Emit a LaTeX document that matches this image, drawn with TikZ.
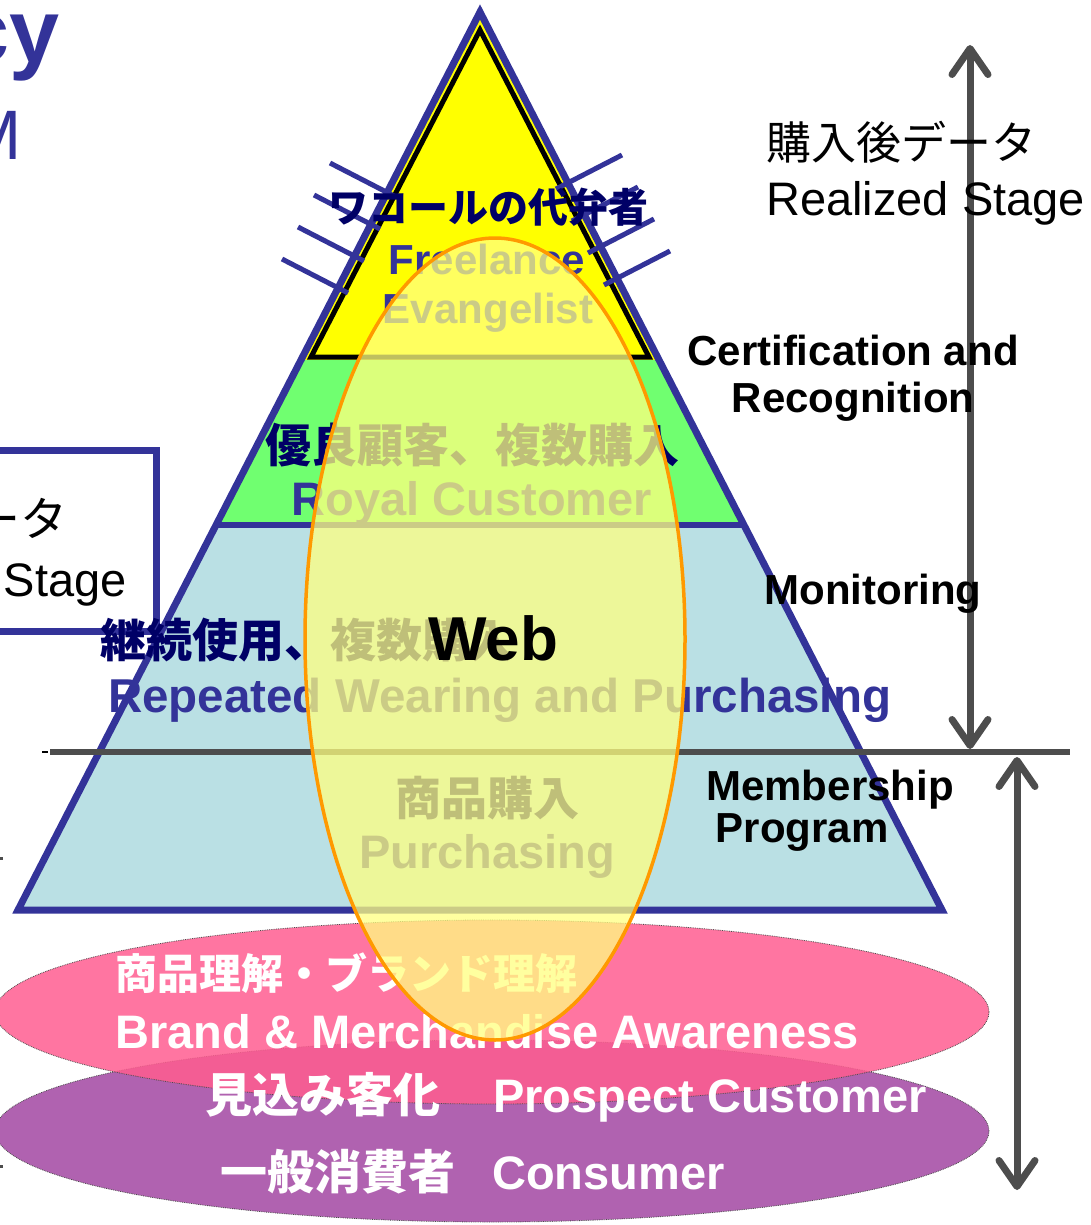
\documentclass[tikz,border=0pt]{standalone}
\usepackage{fontspec}
\setmainfont{Liberation Sans}
\newfontfamily\jp{Noto Sans CJK JP}
\usetikzlibrary{positioning,arrows.meta}
\definecolor{PyrBlue}{HTML}{333399}
\definecolor{PyrNavy}{HTML}{000066}
\definecolor{TopYellow}{HTML}{FFFF00}
\definecolor{MidGreen}{HTML}{70FF70}
\definecolor{LowBlue}{HTML}{BAE0E4}
\definecolor{WebFill}{HTML}{FFFF80}
\definecolor{WebLine}{HTML}{FF9900}
\definecolor{PinkDisc}{HTML}{FF5D90}
\definecolor{PurpleDisc}{HTML}{B062B0}
\definecolor{ArrowGray}{HTML}{4D4D4D}
\tikzset{LayerLabel/.style={%
    inner sep=0pt,%
    anchor=center,%
}}
\tikzset{SideLabel/.style={%
    inner sep=0pt,%
    text=black,%
    font=\bfseries\fontsize{42}{46}\selectfont,%
}}
\tikzset{PlainLabel/.style={%
    inner sep=0pt,%
    text=black,%
    font=\fontsize{47}{50}\selectfont,%
}}
\tikzset{DiscLabel/.style={%
    inner sep=0pt,%
    anchor=west,%
    text=white,%
    font=\bfseries\fontsize{47}{50}\selectfont,%
}}
\tikzset{DiscEdge/.style={%
    draw=black!70,%
    densely dotted,%
    line width=0.8pt,%
}}
\tikzset{HatchLine/.style={%
    draw=PyrBlue,%
    line width=5pt,%
}}
\tikzset{SplitLine/.style={%
    draw=ArrowGray,%
    line width=6pt,%
}}
\tikzset{StageArrow/.style={%
    {Straight Barb[length=26pt,width=36pt,round]}-{Straight Barb[length=26pt,width=36pt,round]},%
    draw=ArrowGray,%
    line width=7pt,%
}}
\tikzset{WebDisc/.style={%
    fill=WebFill,%
    fill opacity=0.75,%
    draw=WebLine,%
    line width=3.5pt,%
}}
\NewDocumentCommand{\layerText}{s m m}{%
    \IfBooleanTF{#1}{%
        {\jp\bfseries\fontsize{#2}{#2}\selectfont\color{PyrNavy}#3}%
    }{%
        {\bfseries\fontsize{#2}{#2}\selectfont\color{PyrBlue}#3}%
    }%
}
\begin{document}
\begin{tikzpicture}[x=1pt,y=-1pt]
    \useasboundingbox (0,0) rectangle (1090,1225);

    % left box, cut by the page edge
    \draw[PyrBlue, line width=7pt] (-20,450) rectangle (156,631);
    \node[PlainLabel, anchor=east] (preJp) at (68,518) {{\jp ータ}};
    \node[PlainLabel, anchor=east] (preEn) at (127,585) {Stage};

    % bottom discs
    \path[fill=PurpleDisc, DiscEdge] (492,1131) ellipse [x radius=497pt, y radius=91pt];
    \path[fill=PinkDisc, fill opacity=0.85, DiscEdge] (492,1012) ellipse [x radius=497pt, y radius=92pt];
    \node[DiscLabel] (awareJp) at (115,973) {{\jp\fontsize{42}{44}\selectfont 商品理解・ブランド理解}};
    \node[DiscLabel] (awareEn) at (115,1032) {Brand \& Merchandise Awareness};
    \node[DiscLabel] (prospect) at (205,1097) {{\jp 見込み客化}\hspace{53pt}Prospect Customer};
    \node[DiscLabel] (consumer) at (220,1172) {{\jp 一般消費者}\hspace{37pt}Consumer};

    % pyramid
    \fill[TopYellow] (480,12) -- (301,360) -- (659,360) -- cycle;
    \fill[MidGreen] (301,360) -- (216,525) -- (744,525) -- (659,360) -- cycle;
    \fill[LowBlue] (216,525) -- (18,910) -- (942,910) -- (744,525) -- cycle;
    \draw[black, line width=5pt, line join=miter] (480,30) -- (311,357) -- (649,357) -- cycle;
    \draw[PyrBlue, line width=6pt] (216,525) -- (744,525);
    \draw[PyrBlue, line width=7pt, line join=miter] (480,12) -- (18,910) -- (942,910) -- cycle;

    \draw[HatchLine] (330,163) -- (396,197);
    \draw[HatchLine] (314,195) -- (380,229);
    \draw[HatchLine] (298,227) -- (364,261);
    \draw[HatchLine] (282,259) -- (348,293);
    \draw[HatchLine] (622,155) -- (556,189);
    \draw[HatchLine] (638,187) -- (572,221);
    \draw[HatchLine] (654,219) -- (588,253);
    \draw[HatchLine] (670,251) -- (604,285);

    \node[LayerLabel] (topJp) at (488,207) {\layerText*{40}{ワコールの代弁者}};
    \node[LayerLabel] (topEn) at (487,259) {\layerText{42}{Freelance}};
    \node[LayerLabel] (topEn2) at (488,313) {\layerText{42}{Evangelist}};
    \node[LayerLabel] (royalJp) at (472,445) {\layerText*{46}{優良顧客、複数購入}};
    \node[LayerLabel] (royalEn) at (472,503) {\layerText{47}{Royal Customer}};
    \node[LayerLabel, anchor=west] (repeatJp) at (100,640) {\layerText*{46}{継続使用、複数購入}};
    \node[LayerLabel, anchor=west] (repeatEn) at (108,700) {\layerText{47.5}{Repeated Wearing and Purchasing}};
    \node[LayerLabel] (buyJp) at (487,798) {\layerText*{46}{商品購入}};
    \node[LayerLabel] (buyEn) at (487,856) {\layerText{47}{Purchasing}};

    \coordinate (splitLeft) at (50,752);
    \coordinate (splitRight) at (1070,752);
    \draw[SplitLine] (splitLeft) -- (splitRight);
    \draw[black, line width=1.5pt] (42,752) -- (48,752);
    \draw[ArrowGray, line width=3pt] (0,858) -- (3,858);
    \draw[ArrowGray, line width=3pt] (0,1166) -- (3,1166);

    % web overlay
    \path[WebDisc] (495,639) ellipse [x radius=190pt, y radius=401pt];
    \node[inner sep=0pt, font=\bfseries\fontsize{62}{62}\selectfont] (web) at (493,638) {Web};

    % stage arrows
    \coordinate (postTop) at (970,45);
    \coordinate (postBottom) at (970,749);
    \draw[StageArrow] (postTop) -- (postBottom);
    \coordinate (memberTop) at (1017,757);
    \coordinate (memberBottom) at (1017,1190);
    \draw[StageArrow] (memberTop) -- (memberBottom);

    \node[PlainLabel, anchor=west] (postJp) at (766,142) {{\jp\fontsize{45}{45}\selectfont 購入後データ}};
    \node[PlainLabel, anchor=west] (postEn) at (766,203) {Realized Stage};
    \node[SideLabel] (certify) at (853,350) {Certification and};
    \node[SideLabel] (recog) at (853,402) {Recognition};
    \node[SideLabel] (monitor) at (873,594) {Monitoring};
    \node[SideLabel] (member) at (830,790) {Membership};
    \node[SideLabel] (program) at (802,832) {Program};

    % title pieces cut by the page edge
    \node[inner sep=0pt, anchor=base east, text=PyrBlue, font=\bfseries\fontsize{90}{90}\selectfont] (titleTail) at (60,63) {cy};
    \node[inner sep=0pt, anchor=base east, text=PyrBlue, font=\fontsize{70}{70}\selectfont] (subTail) at (22,160) {M};
\end{tikzpicture}
\end{document}
